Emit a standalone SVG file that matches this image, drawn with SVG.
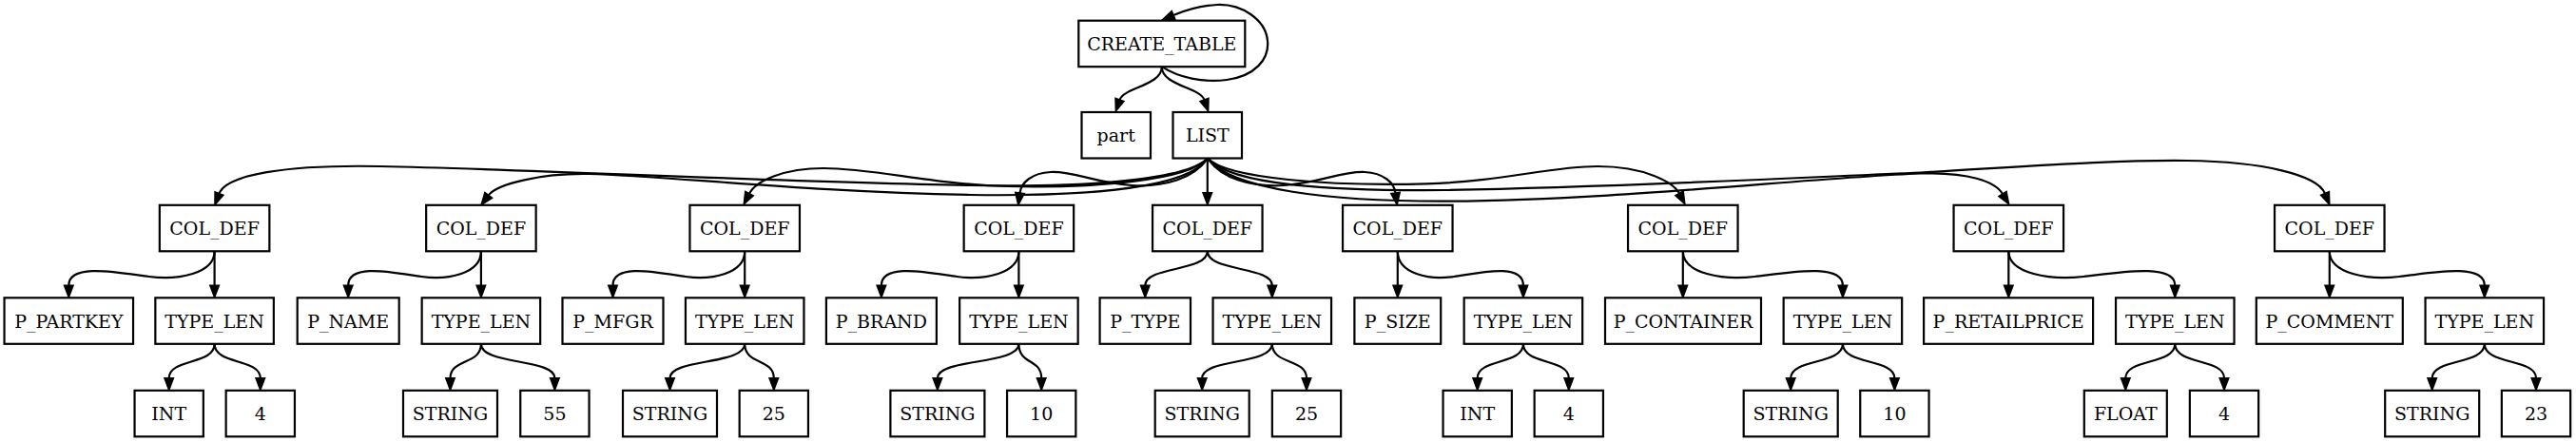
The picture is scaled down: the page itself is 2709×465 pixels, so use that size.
<svg xmlns="http://www.w3.org/2000/svg" width="2709" height="465" viewBox="0 0 2709 465">
<style>
.n rect{fill:#fff;stroke:#000;stroke-width:2.2}
.n text{font-family:"DejaVu Serif","Liberation Serif",serif;font-size:19px;text-anchor:middle;fill:#000}
.e path{fill:none;stroke:#000;stroke-width:2.2;marker-end:url(#ah)}
</style>
<defs>
<marker id="ah" markerUnits="userSpaceOnUse" markerWidth="16" markerHeight="14" refX="1" refY="7" orient="auto" viewBox="0 0 16 14" overflow="visible">
<path d="M1,2.3 L13.5,7 L1,11.7 z" fill="#000" stroke="#000" stroke-width="1.6" stroke-linejoin="miter"/>
</marker>
</defs>
<rect x="0" y="0" width="2709" height="465" fill="#fff"/>
<g id="connectors" class="e">
<path d="M1221.8,70.2 C1240,82 1265,87 1290,84 C1320,80 1335,62 1333,43 C1331,20 1305,4 1280,5 C1262,6 1246,11 1234,16"/>
<path d="M1221.8,70.2 C1221.8,90 1182,92 1177.5,105"/>
<path d="M1221.8,70.2 C1221.8,90 1262,92 1266.5,105"/>
<path d="M1270,166.5 C1245,192 1120,197 1020,195 C800,191 560,178 400,175 C300,173 238,184 230.5,203.6"/>
<path d="M1270,166.5 C1250,197 1150,207 1020,205 C850,202 700,185 620,183 C570,182 522.7,193.4 513.7,205.4"/>
<path d="M1270,166.5 C1250,190 1150,198 1060,196 C980,194 920,177 866,177 C825,177 795,190 788,203.7"/>
<path d="M1270,166.5 C1255,188 1225,197 1190,195 C1150,192 1130,180 1105,181 C1085,182 1074,192 1072.5,203"/>
<path d="M1269.8,166.5 L1269.8,202.8"/>
<path d="M1270,166.5 C1285,188 1315,197 1350,195 C1390,192 1410,180 1435,181 C1455,182 1466,192 1467.5,203"/>
<path d="M1270,166.5 C1290,188 1400,196 1500,193.3 C1580,191 1630,175 1680,175 C1730,175 1760,192 1766,203.5"/>
<path d="M1270,166.5 C1295,200 1400,212 1520,211.7 C1700,211 1900,187 2020,182.5 C2070,181 2098,191 2106,204"/>
<path d="M1270,166.5 C1295,195 1400,201 1520,200 C1700,197 1900,186.5 2020,181.5 C2120,176 2220,168 2300,169 C2380,170 2437,184 2445,203.5"/>
<path d="M225.6,264.3 C225.6,288 187.3,295 156.6,291 C126,287 72.3,276 72.3,300.3"/>
<path d="M225.6,264.3 L225.6,300.3"/>
<path d="M505.9,264.3 C505.9,288 471,295 443,291 C415.1,287 366.2,276 366.2,300.3"/>
<path d="M505.9,264.3 L505.9,300.3"/>
<path d="M783.2,264.3 C783.2,288 748.5,295 720.8,291 C693,287 644.5,276 644.5,300.3"/>
<path d="M783.2,264.3 L783.2,300.3"/>
<path d="M1071.4,264.3 C1071.4,288 1035.3,295 1006.4,291 C977.5,287 926.9,276 926.9,300.3"/>
<path d="M1071.4,264.3 L1071.4,300.3"/>
<path d="M1269.8,264.3 C1269.8,286 1204.3,280 1204.3,300.3"/>
<path d="M1269.8,264.3 C1269.8,286 1337.8,280 1337.8,300.3"/>
<path d="M1469.8,264.3 L1469.8,300.3"/>
<path d="M1469.8,264.3 C1469.8,288 1502.8,295 1529.2,291 C1555.7,287 1601.9,276 1601.9,300.3"/>
<path d="M1769.8,264.3 L1769.8,300.3"/>
<path d="M1769.8,264.3 C1769.8,288 1811.8,295 1845.4,291 C1879.1,287 1937.9,276 1937.9,300.3"/>
<path d="M2112.3,264.3 L2112.3,300.3"/>
<path d="M2112.3,264.3 C2112.3,288 2156,295 2191,291 C2226,287 2287.3,276 2287.3,300.3"/>
<path d="M2449.8,264.3 L2449.8,300.3"/>
<path d="M2449.8,264.3 C2449.8,288 2490.5,295 2523.2,291 C2555.8,287 2612.8,276 2612.8,300.3"/>
<path d="M225.6,361.8 C225.6,384 177.7,377 177.7,397.8"/>
<path d="M225.6,361.8 C225.6,384 273.8,377 273.8,397.8"/>
<path d="M505.9,361.8 C505.9,384 473.5,377 473.5,397.8"/>
<path d="M505.9,361.8 C505.9,384 583.4,377 583.4,397.8"/>
<path d="M783.2,361.8 C783.2,384 704.5,377 704.5,397.8"/>
<path d="M783.2,361.8 C783.2,384 813.8,377 813.8,397.8"/>
<path d="M1071.4,361.8 C1071.4,384 985.9,377 985.9,397.8"/>
<path d="M1071.4,361.8 C1071.4,384 1095.2,377 1095.2,397.8"/>
<path d="M1337.8,361.8 C1337.8,384 1264.2,377 1264.2,397.8"/>
<path d="M1337.8,361.8 C1337.8,384 1374,377 1374,397.8"/>
<path d="M1601.9,361.8 C1601.9,384 1553.7,377 1553.7,397.8"/>
<path d="M1601.9,361.8 C1601.9,384 1649.8,377 1649.8,397.8"/>
<path d="M1937.9,361.8 C1937.9,384 1883.2,377 1883.2,397.8"/>
<path d="M1937.9,361.8 C1937.9,384 1992.4,377 1992.4,397.8"/>
<path d="M2287.3,361.8 C2287.3,384 2235.3,377 2235.3,397.8"/>
<path d="M2287.3,361.8 C2287.3,384 2339,377 2339,397.8"/>
<path d="M2612.8,361.8 C2612.8,384 2557.7,377 2557.7,397.8"/>
<path d="M2612.8,361.8 C2612.8,384 2667,377 2667,397.8"/>
</g>
<g id="create_table" class="n"><rect x="1134.3" y="21.7" width="175" height="48.5"/><text x="1221.8" y="52.9">CREATE_TABLE</text></g>
<g id="part" class="n"><rect x="1137.5" y="118" width="72.5" height="48.5"/><text x="1173.7" y="149.2">part</text></g>
<g id="list" class="n"><rect x="1233.5" y="118" width="72.5" height="48.5"/><text x="1269.8" y="149.2">LIST</text></g>
<g id="col_def_1" class="n"><rect x="167.85" y="215.8" width="115.5" height="48.5"/><text x="225.6" y="247">COL_DEF</text></g>
<g id="col_def_2" class="n"><rect x="448.15" y="215.8" width="115.5" height="48.5"/><text x="505.9" y="247">COL_DEF</text></g>
<g id="col_def_3" class="n"><rect x="725.45" y="215.8" width="115.5" height="48.5"/><text x="783.2" y="247">COL_DEF</text></g>
<g id="col_def_4" class="n"><rect x="1013.65" y="215.8" width="115.5" height="48.5"/><text x="1071.4" y="247">COL_DEF</text></g>
<g id="col_def_5" class="n"><rect x="1212.05" y="215.8" width="115.5" height="48.5"/><text x="1269.8" y="247">COL_DEF</text></g>
<g id="col_def_6" class="n"><rect x="1412.05" y="215.8" width="115.5" height="48.5"/><text x="1469.8" y="247">COL_DEF</text></g>
<g id="col_def_7" class="n"><rect x="1712.05" y="215.8" width="115.5" height="48.5"/><text x="1769.8" y="247">COL_DEF</text></g>
<g id="col_def_8" class="n"><rect x="2054.55" y="215.8" width="115.5" height="48.5"/><text x="2112.3" y="247">COL_DEF</text></g>
<g id="col_def_9" class="n"><rect x="2392.05" y="215.8" width="115.5" height="48.5"/><text x="2449.8" y="247">COL_DEF</text></g>
<g id="p_partkey" class="n"><rect x="4.55" y="313.3" width="135.5" height="48.5"/><text x="72.3" y="344.5">P_PARTKEY</text></g>
<g id="type_len_1" class="n"><rect x="163.35" y="313.3" width="124.5" height="48.5"/><text x="225.6" y="344.5">TYPE_LEN</text></g>
<g id="p_name" class="n"><rect x="312.7" y="313.3" width="107" height="48.5"/><text x="366.2" y="344.5">P_NAME</text></g>
<g id="type_len_2" class="n"><rect x="443.65" y="313.3" width="124.5" height="48.5"/><text x="505.9" y="344.5">TYPE_LEN</text></g>
<g id="p_mfgr" class="n"><rect x="591.5" y="313.3" width="106" height="48.5"/><text x="644.5" y="344.5">P_MFGR</text></g>
<g id="type_len_3" class="n"><rect x="720.95" y="313.3" width="124.5" height="48.5"/><text x="783.2" y="344.5">TYPE_LEN</text></g>
<g id="p_brand" class="n"><rect x="868.9" y="313.3" width="116" height="48.5"/><text x="926.9" y="344.5">P_BRAND</text></g>
<g id="type_len_4" class="n"><rect x="1009.15" y="313.3" width="124.5" height="48.5"/><text x="1071.4" y="344.5">TYPE_LEN</text></g>
<g id="p_type" class="n"><rect x="1156.6" y="313.3" width="95.4" height="48.5"/><text x="1204.3" y="344.5">P_TYPE</text></g>
<g id="type_len_5" class="n"><rect x="1275.55" y="313.3" width="124.5" height="48.5"/><text x="1337.8" y="344.5">TYPE_LEN</text></g>
<g id="p_size" class="n"><rect x="1424.4" y="313.3" width="90.8" height="48.5"/><text x="1469.8" y="344.5">P_SIZE</text></g>
<g id="type_len_6" class="n"><rect x="1539.65" y="313.3" width="124.5" height="48.5"/><text x="1601.9" y="344.5">TYPE_LEN</text></g>
<g id="p_container" class="n"><rect x="1688" y="313.3" width="164" height="48.5"/><text x="1770" y="344.5">P_CONTAINER</text></g>
<g id="type_len_7" class="n"><rect x="1875.65" y="313.3" width="124.5" height="48.5"/><text x="1937.9" y="344.5">TYPE_LEN</text></g>
<g id="p_retailprice" class="n"><rect x="2023.1" y="313.3" width="178" height="48.5"/><text x="2112.1" y="344.5">P_RETAILPRICE</text></g>
<g id="type_len_8" class="n"><rect x="2225.05" y="313.3" width="124.5" height="48.5"/><text x="2287.3" y="344.5">TYPE_LEN</text></g>
<g id="p_comment" class="n"><rect x="2372.8" y="313.3" width="154" height="48.5"/><text x="2449.8" y="344.5">P_COMMENT</text></g>
<g id="type_len_9" class="n"><rect x="2550.55" y="313.3" width="124.5" height="48.5"/><text x="2612.8" y="344.5">TYPE_LEN</text></g>
<g id="int_1" class="n"><rect x="141.55" y="410.8" width="72.3" height="48.5"/><text x="177.7" y="442">INT</text></g>
<g id="len_4_1" class="n"><rect x="237.65" y="410.8" width="72.3" height="48.5"/><text x="273.8" y="442">4</text></g>
<g id="string_1" class="n"><rect x="424" y="410.8" width="99" height="48.5"/><text x="473.5" y="442">STRING</text></g>
<g id="len_55" class="n"><rect x="547.25" y="410.8" width="72.3" height="48.5"/><text x="583.4" y="442">55</text></g>
<g id="string_2" class="n"><rect x="655" y="410.8" width="99" height="48.5"/><text x="704.5" y="442">STRING</text></g>
<g id="len_25_1" class="n"><rect x="777.65" y="410.8" width="72.3" height="48.5"/><text x="813.8" y="442">25</text></g>
<g id="string_3" class="n"><rect x="936.4" y="410.8" width="99" height="48.5"/><text x="985.9" y="442">STRING</text></g>
<g id="len_10_1" class="n"><rect x="1059.05" y="410.8" width="72.3" height="48.5"/><text x="1095.2" y="442">10</text></g>
<g id="string_4" class="n"><rect x="1214.7" y="410.8" width="99" height="48.5"/><text x="1264.2" y="442">STRING</text></g>
<g id="len_25_2" class="n"><rect x="1337.85" y="410.8" width="72.3" height="48.5"/><text x="1374" y="442">25</text></g>
<g id="int_2" class="n"><rect x="1517.55" y="410.8" width="72.3" height="48.5"/><text x="1553.7" y="442">INT</text></g>
<g id="len_4_2" class="n"><rect x="1613.65" y="410.8" width="72.3" height="48.5"/><text x="1649.8" y="442">4</text></g>
<g id="string_5" class="n"><rect x="1833.7" y="410.8" width="99" height="48.5"/><text x="1883.2" y="442">STRING</text></g>
<g id="len_10_2" class="n"><rect x="1956.25" y="410.8" width="72.3" height="48.5"/><text x="1992.4" y="442">10</text></g>
<g id="float_1" class="n"><rect x="2191.8" y="410.8" width="87" height="48.5"/><text x="2235.3" y="442">FLOAT</text></g>
<g id="len_4_3" class="n"><rect x="2302.85" y="410.8" width="72.3" height="48.5"/><text x="2339" y="442">4</text></g>
<g id="string_6" class="n"><rect x="2508.2" y="410.8" width="99" height="48.5"/><text x="2557.7" y="442">STRING</text></g>
<g id="len_23" class="n"><rect x="2630.85" y="410.8" width="72.3" height="48.5"/><text x="2667" y="442">23</text></g>
</svg>
